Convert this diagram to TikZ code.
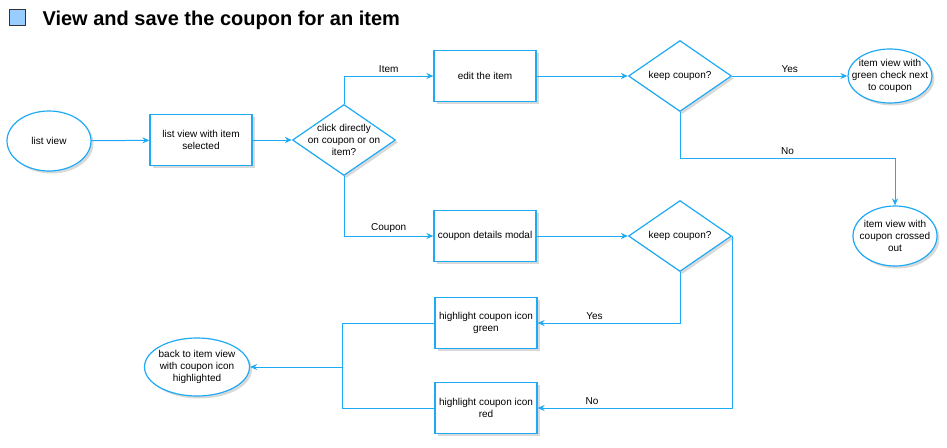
\documentclass[tikz,border=0pt]{standalone}
\usepackage{fontspec}
\setmainfont{Liberation Sans}
\usetikzlibrary{shapes.geometric,arrows.meta,shadows}
\definecolor{flowblue}{RGB}{30,170,245}
\definecolor{titlebox}{RGB}{153,204,255}
\tikzset{
  txt/.style={font=\fontsize{10}{12}\selectfont,align=center},
  base/.style={draw=flowblue,line width=1.2pt,fill=white,txt,
    drop shadow={shadow xshift=2.5pt,shadow yshift=-2.5pt,fill=black!15,opacity=1}},
  stepbox/.style={base,rectangle,minimum width=102pt,minimum height=51pt,inner sep=1pt},
  endcap/.style={base,ellipse,minimum width=84pt,inner sep=0pt},
  choice/.style={base,diamond,minimum width=103pt,minimum height=71pt,inner sep=0pt},
  flow/.style={draw=flowblue,line width=1pt,-{Stealth[length=7pt,width=6pt]}},
}
\begin{document}
\begin{tikzpicture}[x=1pt,y=-1pt]
      \useasboundingbox (0,0) rectangle (947,447);
      \path
        (17,17) node[draw=black!80,fill=titlebox,minimum size=16pt,inner sep=0pt] (icon){}
        (39,25) node[anchor=base west,font=\fontsize{20}{24}\selectfont\bfseries] (title){View and save the coupon for an item}
        (49,141) node[endcap,minimum height=60pt,label={[txt]center:list view}] (list){}
        (201,140) node[stepbox] (sel){list view with item\\selected}
        (344,140) node[choice,label={[txt]center:click directly\\on coupon or on\\item?}] (click){}
        (485,76) node[stepbox] (edit){edit the item}
        (680,76) node[choice,label={[txt]center:keep coupon?}] (keepi){}
        (890,76) node[endcap,minimum height=54pt,label={[txt]center:item view with\\green check next\\to coupon}] (check){}
        (895,236) node[endcap,minimum height=60pt,label={[txt]center:item view with\\coupon crossed\\out}] (crossed){}
        (485,236) node[stepbox] (modal){coupon details modal}
        (680,236) node[choice,label={[txt]center:keep coupon?}] (keepc){}
        (486,323) node[stepbox] (green){highlight coupon icon\\green}
        (486,408) node[stepbox] (red){highlight coupon icon\\red}
        (197,367) node[endcap,minimum width=105pt,minimum height=58pt,label={[txt]center:back to item view\\with coupon icon\\highlighted}] (back){};
      \coordinate (join) at (342,367);
      \begin{scope}[flow]
        \draw (list) to (sel);
        \draw (sel) to (click);
        \draw (click.north) |- node[txt,above,pos=0.75]{Item} (edit.west);
        \draw (click.south) |- node[txt,above,pos=0.75]{Coupon} (modal.west);
        \draw (edit) to (keepi);
        \draw (keepi) to node[txt,above]{Yes} (check);
        \draw (keepi.south) -- ++(0,46) -| node[txt,above,pos=0.25]{No} (crossed.north);
        \draw (modal) to (keepc);
        \draw (keepc.south) |- node[txt,above,pos=0.8]{Yes} (green.east);
        \draw (keepc.east) |- node[txt,above,pos=0.86]{No} (red.east);
        \draw (join) to (back.east);
      \end{scope}
      \begin{scope}[draw=flowblue,line width=1pt]
        \draw (green.west) -| (join);
        \draw (red.west) -| (join);
      \end{scope}
    \end{tikzpicture}
\end{document}
